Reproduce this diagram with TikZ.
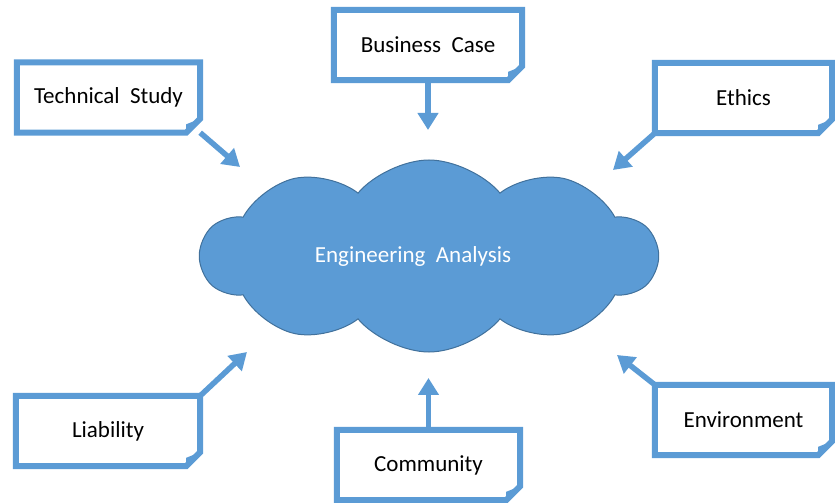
\documentclass[tikz,border=0pt]{standalone}
\usepackage{fontspec}
\setmainfont{Carlito}
\usetikzlibrary{shapes.symbols,arrows.meta}
\definecolor{ms_blue}{RGB}{91,155,213}
\definecolor{ms_edge}{RGB}{65,113,156}
\tikzstyle{note}=[rectangle,minimum width=183pt,minimum height=70pt,inner sep=0pt,
  font=\fontsize{23}{27}\selectfont]
\tikzstyle{frame}=[draw=ms_blue,line width=6pt,line join=miter]
\tikzstyle{feed}=[draw=ms_blue,line width=5.5pt,-{Triangle[width=20pt,length=17pt]}]
\tikzstyle{cl}=[cloud,cloud puffs=10,cloud puff arc=100,aspect=2.4,fill=ms_blue,
  draw=ms_edge,line width=1pt,minimum width=456pt,minimum height=192pt,inner sep=0pt,
  text=white,font=\fontsize{23}{27}\selectfont]
\newcommand{\fold}{14pt}
\newcommand{\foldbox}[1]{%
  \draw[frame] (#1.north west) -- (#1.north east) -- ([yshift=\fold]#1.south east)
    -- ([xshift=-\fold]#1.south east) -- (#1.south west) -- cycle;
  \fill[ms_blue] ([yshift=\fold]#1.south east) -- ([xshift=-\fold]#1.south east)
    -- ([xshift=-\fold,yshift=0.6*\fold]#1.south east) -- cycle;}

\begin{document}
\begin{tikzpicture}[x=1pt,y=1pt]
    \useasboundingbox (0,0) rectangle (835,503);
    \node [style=cl] (ea) at (429,247) {Engineering\ \ Analysis\hspace*{32pt}};
    \node [style=note] (tech) at (108.5,405.5) {Technical\ \ Study};
    \node [style=note,minimum width=188pt] (biz) at (428,458) {Business\ \ Case};
    \node [style=note,minimum width=177pt] (ethics) at (743.5,405) {Ethics};
    \node [style=note,minimum width=184pt] (liab) at (108,72) {Liability};
    \node [style=note,minimum width=177pt] (env) at (743.5,83) {Environment};
    \node [style=note] (comm) at (428.5,38) {Community};
    \coordinate (techTip) at (240,336);
    \coordinate (bizTip) at (428,373);
    \coordinate (ethicsTip) at (613,333);
    \coordinate (liabTip) at (247,151);
    \coordinate (envTip) at (617,148);
    \coordinate (commTip) at (428.5,125);
    \draw [style=feed] (tech.south east) to (techTip);
    \draw [style=feed] (biz.south) to (bizTip);
    \draw [style=feed] (ethics.south west) to (ethicsTip);
    \draw [style=feed] (liab.north east) to (liabTip);
    \draw [style=feed] (env.north west) to (envTip);
    \draw [style=feed] (comm.north) to (commTip);
    \foldbox{tech}
    \foldbox{biz}
    \foldbox{ethics}
    \foldbox{liab}
    \foldbox{env}
    \foldbox{comm}
  \end{tikzpicture}
\end{document}
